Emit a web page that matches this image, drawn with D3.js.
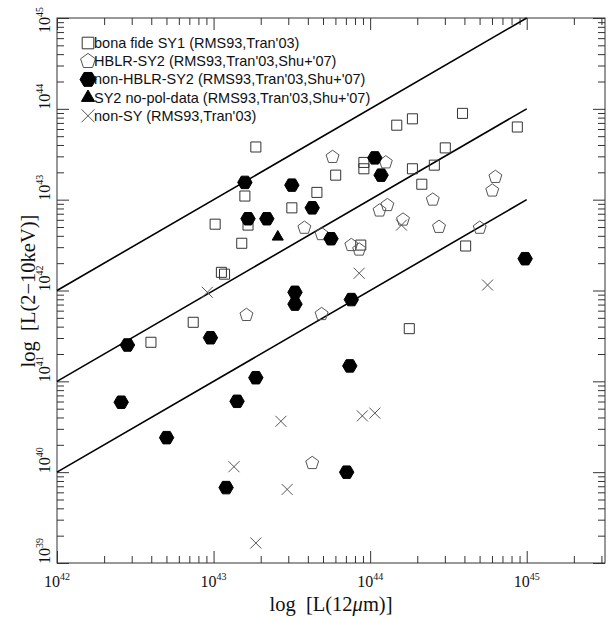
<!DOCTYPE html>
<html>
<head>
<meta charset="utf-8">
<script src="https://cdn.jsdelivr.net/npm/d3@7"></script>
<style>
body { margin: 0; background: #fff; }
.tick line { stroke: #333; stroke-width: 1; }
</style>
</head>
<body>
<div id="chart"></div>
<script>
// values are log10 of the luminosities: [log L(12um), log L(2-10keV)]
var sy1 = [[43.27,43.58],[43.20,43.04],[43.22,42.72],[43.01,42.73],[43.18,42.52],[43.05,42.20],
  [43.07,42.18],[42.87,41.65],[42.60,41.43],[44.17,43.82],[44.27,43.89],[44.59,43.95],[44.94,43.80],
  [44.48,43.57],[44.41,43.38],[44.27,43.34],[43.96,43.41],[43.96,43.34],[43.78,43.27],[43.66,43.08],
  [43.50,42.91],[44.33,43.17],[43.94,42.50],[44.61,42.49],[44.25,41.58]];
var hblr = [[43.21,41.73],[43.76,43.47],[44.10,43.41],[44.80,43.25],[44.78,43.10],[44.40,43.00],
  [44.11,42.94],[44.06,42.88],[44.21,42.78],[44.44,42.70],[44.70,42.69],[43.58,42.69],[43.69,42.62],
  [43.88,42.50],[43.93,42.45],[43.69,41.74],[43.63,40.10]];
var nonHblr = [[43.20,43.19],[43.50,43.16],[43.63,42.91],[43.22,42.79],[43.34,42.79],[44.03,43.46],
  [44.07,43.27],[43.75,42.57],[43.52,41.98],[43.52,41.85],[43.88,41.90],[42.45,41.40],[42.98,41.48],
  [43.27,41.04],[42.41,40.77],[43.15,40.78],[42.70,40.38],[43.08,39.83],[43.87,41.17],[43.85,40.00],
  [44.99,42.35]];
var noPol = [[43.41,42.59]];
var nonSy = [[42.96,41.98],[43.93,42.19],[44.20,42.72],[44.75,42.06],[43.43,40.56],[43.95,40.62],
  [44.03,40.65],[43.13,40.06],[43.47,39.81],[43.27,39.22]];

var legendLabels = ["bona fide SY1 (RMS93,Tran'03)", "HBLR-SY2 (RMS93,Tran'03,Shu+'07)",
  "non-HBLR-SY2 (RMS93,Tran'03,Shu+'07)", "SY2 no-pol-data (RMS93,Tran'03,Shu+'07)", "non-SY (RMS93,Tran'03)"];

// L(X)/L(12um) ratios of the three diagonal lines, drawn from 1e42 to 1e45
var ratios = [1, 0.1, 0.01];
var lineRange = [42, 45];

var xTickExp = [42, 43, 44, 45];
var yTickExp = [39, 40, 41, 42, 43, 44, 45];

var width = 611, height = 617;
var x = d3.scaleLog().domain([1e42, Math.pow(10, 45.5)]).range([57, 605]);
var y = d3.scaleLog().domain([1e39, 1e45]).range([563, 18]);

function p10(v) { return Math.pow(10, v); }

function minorTicks(lo, hi) {
    var t = [];
    for (var d = lo; d < hi; d++) {
        for (var k = 2; k < 10; k++) t.push(k * Math.pow(10, d));
    }
    return t;
}

function poly(n, r, a0) {
    var pts = [];
    for (var i = 0; i < n; i++) {
        var a = a0 + 2 * Math.PI * i / n;
        pts.push([(r * Math.cos(a)).toFixed(2), (r * Math.sin(a)).toFixed(2)]);
    }
    return "M" + pts.join("L") + "Z";
}
function cross(h) {
    return "M" + (-h) + "," + (-h) + "L" + h + "," + h + "M" + (-h) + "," + h + "L" + h + "," + (-h);
}

var svg = d3.select("#chart").append("svg")
    .attr("width", width)
    .attr("height", height)
    .style("font-family", "'Liberation Serif', 'Times New Roman', serif");

// frame
svg.append("rect")
    .attr("x", x.range()[0]).attr("y", y.range()[1])
    .attr("width", x.range()[1] - x.range()[0])
    .attr("height", y.range()[0] - y.range()[1])
    .attr("fill", "none").attr("stroke", "#333").attr("stroke-width", 1);

// ticks, all pointing inside
var xMajor = xTickExp.map(p10), yMajor = yTickExp.map(p10);
var xMinor = minorTicks(42, 45).concat([2e45, 3e45]);
var yMinor = minorTicks(39, 45);

function ticks(axisFn, scale, vals, size, tr) {
    svg.append("g")
        .attr("transform", tr)
        .call(axisFn(scale).tickValues(vals).tickSize(size).tickFormat(""))
        .call(function (g) { g.select(".domain").remove(); });
}
ticks(d3.axisBottom, x, xMajor, -12, "translate(0,563)");
ticks(d3.axisBottom, x, xMinor, -7, "translate(0,563)");
ticks(d3.axisTop, x, xMajor, -12, "translate(0,18)");
ticks(d3.axisTop, x, xMinor, -7, "translate(0,18)");
ticks(d3.axisLeft, y, yMajor, -12, "translate(57,0)");
ticks(d3.axisLeft, y, yMinor, -7, "translate(57,0)");
ticks(d3.axisRight, y, yMajor, -12, "translate(605,0)");
ticks(d3.axisRight, y, yMinor, -7, "translate(605,0)");

// tick labels
function powLabel(sel, e) {
    sel.append("tspan").text("10");
    sel.append("tspan").attr("font-size", 10).attr("dy", -7).text(e);
}
xTickExp.forEach(function (e) {
    var t = svg.append("text")
        .attr("x", x(p10(e))).attr("y", 587)
        .attr("text-anchor", "middle")
        .attr("font-size", 16).attr("fill", "#111");
    powLabel(t, e);
});
yTickExp.forEach(function (e) {
    var yy = e == 45 ? 33 : y(p10(e)) + 1;
    var t = svg.append("text")
        .attr("transform", "translate(50," + yy + ") rotate(-90)")
        .attr("text-anchor", "start")
        .attr("font-size", 16).attr("fill", "#111");
    powLabel(t, e);
});

// axis titles
svg.append("text")
    .attr("x", 331).attr("y", 611)
    .attr("text-anchor", "middle")
    .attr("font-size", 20.5).attr("fill", "#111")
    .html("log&#160; [L(12<tspan font-style='italic'>\u03bc</tspan>m)]");
svg.append("text")
    .attr("transform", "translate(35,291) rotate(-90)")
    .attr("text-anchor", "middle")
    .attr("font-size", 20.5).attr("fill", "#111")
    .html("log&#160; [L(2\u221210keV)]");

// ratio lines
var line = d3.line()
    .x(function (d) { return x(p10(d[0])); })
    .y(function (d) { return y(p10(d[1])); });
ratios.forEach(function (r) {
    var off = Math.log10(r);
    svg.append("path")
        .attr("d", line(lineRange.map(function (v) { return [v, v + off]; })))
        .attr("fill", "none").attr("stroke", "#000").attr("stroke-width", 1.6);
});

// markers
var shapes = {
    square: { d: poly(4, 7.1, Math.PI / 4), fill: "none", stroke: "#333" },
    pent: { d: poly(5, 6.8, -Math.PI / 2), fill: "none", stroke: "#555" },
    hex: { d: poly(6, 7.2, 0), fill: "#000", stroke: "#000" },
    tri: { d: poly(3, 6.4, -Math.PI / 2), fill: "#000", stroke: "#000" },
    cross: { d: cross(5.5), fill: "none", stroke: "#555" }
};
var series = [
    { data: sy1, shape: "square" },
    { data: hblr, shape: "pent" },
    { data: nonHblr, shape: "hex" },
    { data: noPol, shape: "tri" },
    { data: nonSy, shape: "cross" }
];
series.forEach(function (s) {
    var sh = shapes[s.shape];
    svg.append("g").selectAll("path")
        .data(s.data)
        .enter().append("path")
        .attr("transform", function (d) { return "translate(" + x(p10(d[0])) + "," + y(p10(d[1])) + ")"; })
        .attr("d", sh.d)
        .attr("fill", sh.fill)
        .attr("stroke", sh.stroke)
        .attr("stroke-width", 1);
});

// legend
var legendShapes = [
    { d: poly(4, 8.2, Math.PI / 4), fill: "none", stroke: "#333" },
    { d: poly(5, 7.8, -Math.PI / 2), fill: "none", stroke: "#555" },
    { d: poly(6, 8, 0), fill: "#000", stroke: "#000" },
    { d: poly(3, 7.6, -Math.PI / 2), fill: "#000", stroke: "#000" },
    { d: cross(6.5), fill: "none", stroke: "#555" }
];
var leg = svg.append("g").attr("transform", "translate(88,43)");
legendLabels.forEach(function (lab, i) {
    var ly = i * 18.2;
    leg.append("path")
        .attr("transform", "translate(0," + ly + ")")
        .attr("d", legendShapes[i].d)
        .attr("fill", legendShapes[i].fill)
        .attr("stroke", legendShapes[i].stroke)
        .attr("stroke-width", 1);
    leg.append("text")
        .attr("x", 6).attr("y", ly + 5)
        .attr("font-family", "'Liberation Sans', Arial, sans-serif")
        .attr("font-size", 14.5).attr("fill", "#111")
        .text(lab);
});
</script>
</body>
</html>
